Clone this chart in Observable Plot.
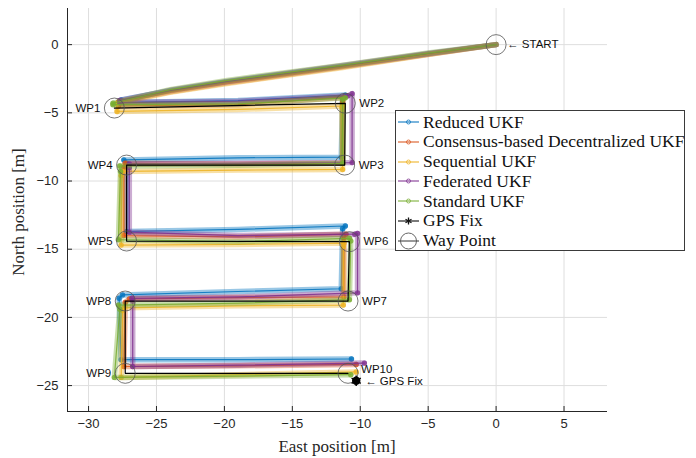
<!DOCTYPE html>
<html><head><meta charset="utf-8">
<script src="https://cdn.jsdelivr.net/npm/d3@7"></script>
<script src="https://cdn.jsdelivr.net/npm/@observablehq/plot@0.6"></script>
<style>
body{margin:0;background:#fff;}
#wrap{position:relative;width:696px;height:458px;}
#legend{position:absolute;left:395px;top:110px;width:290px;height:141px;border:1px solid #3a3a3a;background:#fff;box-sizing:border-box;font-family:"Liberation Serif","DejaVu Serif",serif;font-size:17.5px;color:#111;}
.row{position:absolute;left:1px;height:20px;display:flex;align-items:center;white-space:nowrap;}
.row svg{margin-right:2px;}
</style></head><body><div id="wrap"></div>
<script>
// ---------- data ----------
const xTicks = [-30, -25, -20, -15, -10, -5, 0, 5];
const yTicks = [0, -5, -10, -15, -20, -25];

const wpNames = ["START","WP1","WP2","WP3","WP4","WP5","WP6","WP7","WP8","WP9","WP10"];
const wpEast  = [0, -28.1, -11.1, -11.15, -27.2, -27.2, -10.8, -10.9, -27.3, -27.3, -10.9];
const wpNorth = [0, -4.65, -4.3, -8.83, -8.83, -14.4, -14.45, -18.8, -18.8, -24.1, -24.1];

const gpsEast = [-10.3];
const gpsNorth = [-24.65];

const seriesNames = ["Reduced UKF","Consensus-based Decentralized UKF","Sequential UKF","Federated UKF","Standard UKF"];
const seriesColors = ["#0072BD","#D95319","#EDB120","#7E2F8E","#77AC30"];

const reducedEast  = [0,-5,-11.4,-19.8,-24,-27.6,-27.6,-19,-11.1,-11.3,-11.4,-19,-27.4,-27.2,-27.2,-19,-11.1,-11.3,-11.4,-19,-27.5,-27.75,-27.6,-19,-10.65];
const reducedNorth = [0,-0.68,-1.6,-2.72,-3.38,-4.05,-4.25,-4.1,-3.7,-3.95,-8.25,-8.3,-8.45,-8.7,-13.7,-13.55,-13.3,-13.5,-17.9,-18.1,-18.35,-18.6,-23.1,-23.1,-23.05];

const consensusEast  = [0,-5,-11.4,-19.8,-24,-27.8,-27.8,-19,-11.2,-11.3,-11.3,-19,-27.3,-27.4,-27.4,-19,-11.05,-11.2,-11.2,-19,-27.0,-27.3,-27.4,-19,-10.3];
const consensusNorth = [0,-0.7,-1.65,-2.8,-3.45,-4.2,-4.5,-4.4,-3.85,-4.2,-8.7,-8.75,-8.7,-9.0,-14.0,-14.1,-13.9,-14.2,-18.5,-18.55,-18.65,-18.9,-23.6,-23.55,-23.45];

const sequentialEast  = [0,-5,-11.4,-19.8,-24,-27.9,-27.9,-19,-11.3,-11.35,-11.3,-19,-27.5,-27.6,-27.6,-19,-11.2,-11.25,-11.25,-19,-27.4,-27.5,-27.6,-19,-10.3];
const sequentialNorth = [0,-0.72,-1.7,-2.85,-3.5,-4.3,-4.9,-4.75,-4.5,-4.6,-9.15,-9.2,-9.3,-9.6,-14.7,-14.65,-14.55,-14.8,-19.1,-19.15,-19.3,-19.5,-24.4,-24.2,-24.0];

const federatedEast  = [0,-5,-11.4,-19.8,-24,-27.7,-27.7,-19,-10.9,-10.6,-10.6,-19,-27.0,-27.0,-27.0,-19,-10.4,-10.2,-10.2,-19,-26.8,-26.75,-26.75,-19,-9.7];
const federatedNorth = [0,-0.65,-1.55,-2.7,-3.35,-4.1,-4.25,-4.15,-3.75,-3.6,-8.65,-8.7,-8.75,-9.0,-13.75,-14.0,-13.9,-13.85,-18.2,-18.5,-18.6,-18.8,-23.6,-23.5,-23.35];

const standardEast  = [0,-5,-11.4,-19.8,-24,-28.2,-28.2,-19,-11.1,-11.3,-11.3,-19,-27.7,-27.65,-27.8,-19,-10.8,-10.7,-10.8,-19,-27.8,-27.7,-28.1,-19,-10.7];
const standardNorth = [0,-0.62,-1.52,-2.62,-3.3,-4.3,-4.4,-4.35,-3.9,-4.0,-8.7,-8.85,-8.9,-9.3,-14.3,-14.45,-14.2,-14.4,-18.7,-18.95,-19.1,-19.4,-24.4,-24.3,-24.2];

const xDomain = [-31.55, 8.2];
const yDomain = [-26.9, 2.65];

// ---------- build ----------
const seriesE = [reducedEast, consensusEast, sequentialEast, federatedEast, standardEast];
const seriesN = [reducedNorth, consensusNorth, sequentialNorth, federatedNorth, standardNorth];
const trajMarks = [];
seriesNames.forEach((name, i) => {
  const pts = seriesE[i].map((e, j) => ({east: e, north: seriesN[i][j], j}));
  const corners = pts.filter(d => d.j >= 5 && (d.j - 7) % 4 !== 0);
  trajMarks.push(Plot.line(pts, {x: "east", y: "north", stroke: seriesColors[i], strokeWidth: 5.5, strokeOpacity: 0.4}));
  trajMarks.push(Plot.line(pts, {x: "east", y: "north", stroke: seriesColors[i], strokeWidth: 1.2, strokeOpacity: 0.85}));
  trajMarks.push(Plot.dot(corners, {x: "east", y: "north", r: 2.7, fill: seriesColors[i], fillOpacity: 0.8}));
});

const wps = wpNames.map((n, i) => ({name: n, east: wpEast[i], north: wpNorth[i]}));
const leftSide = new Set(["WP1","WP4","WP5","WP8","WP9"]);
const wpLeft = wps.filter(d => leftSide.has(d.name));
const wpRight = wps.filter(d => !leftSide.has(d.name) && d.name !== "START" && d.name !== "WP10");
const wpStart = wps.filter(d => d.name === "START");
const wpTen = wps.filter(d => d.name === "WP10");
const wpPath = wps.filter(d => d.name !== "START");
const gps = gpsEast.map((e, i) => ({east: e, north: gpsNorth[i]}));

const lblFont = {fontFamily: "Liberation Sans, Arial, sans-serif", fontSize: 11.5, fill: "#111"};

const plot = Plot.plot({
  width: 696, height: 458,
  marginLeft: 67, marginRight: 89, marginTop: 8, marginBottom: 47,
  x: {domain: xDomain, ticks: xTicks, label: null},
  y: {domain: yDomain, ticks: yTicks, label: null},
  style: {fontFamily: "Liberation Sans, Arial, sans-serif", fontSize: "13px", color: "#262626", background: "white", overflow: "visible"},
  marks: [
    Plot.gridX(xTicks, {stroke: "#dedede", strokeOpacity: 1, strokeWidth: 1}),
    Plot.gridY(yTicks, {stroke: "#dedede", strokeOpacity: 1, strokeWidth: 1}),
    ...trajMarks,
    Plot.line(wpPath, {x: "east", y: "north", stroke: "#000", strokeWidth: 1.2}),
    Plot.dot(wps, {x: "east", y: "north", r: 10, stroke: "#555", strokeWidth: 0.8}),
    Plot.dot(gps, {x: "east", y: "north", r: 4.2, fill: "#000"}),
    Plot.dot(gps, {x: "east", y: "north", r: 5, symbol: "asterisk", stroke: "#000", strokeWidth: 1.5}),
    Plot.text(wpLeft, {x: "east", y: "north", text: "name", textAnchor: "end", dx: -14, ...lblFont}),
    Plot.text(wpRight, {x: "east", y: "north", text: "name", textAnchor: "start", dx: 14, ...lblFont}),
    Plot.text(wpTen, {x: "east", y: "north", text: "name", textAnchor: "start", dx: 13, dy: -4, ...lblFont}),
    Plot.text(wpStart, {x: "east", y: "north", text: d => "\u2190 " + d.name, textAnchor: "start", dx: 11, ...lblFont}),
    Plot.text(gps, {x: "east", y: "north", text: () => "\u2190 GPS Fix", textAnchor: "start", dx: 9, ...lblFont}),
    Plot.ruleX([xDomain[0]], {stroke: "#262626", strokeWidth: 1}),
    Plot.ruleY([yDomain[0]], {stroke: "#262626", strokeWidth: 1}),
    Plot.axisX(xTicks, {tickSize: -5, tickPadding: 12, stroke: "#262626", fill: "#262626", fontSize: 13}),
    Plot.axisY(yTicks, {tickSize: -5, tickPadding: 14, stroke: "#262626", fill: "#262626", fontSize: 13})
  ]
});

const wrap = document.getElementById("wrap");
wrap.appendChild(plot);
plot.style.position = "absolute"; plot.style.left = "0"; plot.style.top = "0";

// axis titles
const svg = d3.select(plot);
svg.append("text").attr("x", 337).attr("y", 452).attr("text-anchor", "middle")
  .attr("font-family", "Liberation Serif, serif").attr("font-size", 17).attr("fill", "#262626")
  .text("East position [m]");
svg.append("text").attr("transform", "translate(24,212) rotate(-90)").attr("text-anchor", "middle")
  .attr("font-family", "Liberation Serif, serif").attr("font-size", 17).attr("fill", "#262626")
  .text("North position [m]");

// legend
const legend = document.createElement("div");
legend.id = "legend";
wrap.appendChild(legend);
const legendItems = seriesNames.map((n, i) => ({name: n, color: seriesColors[i], kind: "filter"}))
  .concat([{name: "GPS Fix", color: "#000", kind: "gps"}, {name: "Way Point", color: "#444", kind: "wp"}]);
legendItems.forEach((it, i) => {
  const row = document.createElement("div");
  row.className = "row";
  row.style.top = (1 + i * 19.75) + "px";
  let sample = "";
  if (it.kind === "filter") {
    sample = `<line x1="1" y1="10" x2="22" y2="10" stroke="${it.color}" stroke-opacity="0.75" stroke-width="1.4"/><circle cx="11.5" cy="10" r="2" fill="none" stroke="${it.color}" stroke-opacity="0.75" stroke-width="1"/>`;
  } else if (it.kind === "gps") {
    sample = `<line x1="1" y1="10" x2="22" y2="10" stroke="#222" stroke-width="1.2"/><path d="M11.5,6.5V13.5M8.5,8.3L14.5,11.7M8.5,11.7L14.5,8.3" stroke="#111" stroke-width="1.3"/>`;
  } else {
    sample = `<line x1="1" y1="10" x2="22" y2="10" stroke="#333" stroke-width="1"/><circle cx="11.5" cy="10" r="8" fill="none" stroke="#555" stroke-width="0.9"/>`;
  }
  row.innerHTML = `<svg width="24" height="20">${sample}</svg><span>${it.name}</span>`;
  legend.appendChild(row);
});
</script>
</body></html>
